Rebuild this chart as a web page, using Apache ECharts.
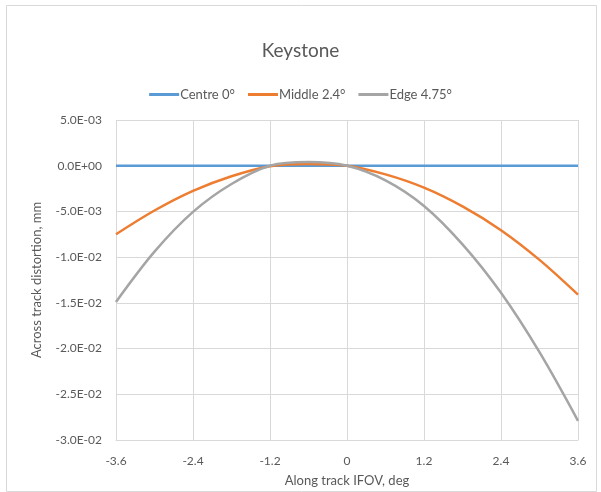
<!DOCTYPE html>
<html><head><meta charset="utf-8">
<script src="https://cdn.jsdelivr.net/npm/echarts@6/dist/echarts.min.js"></script>
<style>html,body{margin:0;padding:0;background:#fff}#c{width:601px;height:492px}</style>
</head><body><div id="c"></div>
<script>
const xValues = [-3.6, -3.0, -2.4, -1.8, -1.2, -0.6, 0, 0.6, 1.2, 1.8, 2.4, 3.0, 3.6];
const centre = [0, 0, 0, 0, 0, 0, 0, 0, 0, 0, 0, 0, 0];
const middle = [-7.5e-3, -4.9e-3, -2.75e-3, -1.15e-3, -0.05e-3, 0.2e-3, 0, -0.95e-3, -2.4e-3, -4.45e-3, -7.05e-3, -10.3e-3, -14.1e-3];
const edge = [-14.9e-3, -9.4e-3, -5.05e-3, -2.0e-3, 0.0, 0.4e-3, 0, -1.6e-3, -4.4e-3, -8.6e-3, -13.9e-3, -20.4e-3, -27.9e-3];
const seriesNames = ['Centre 0°', 'Middle 2.4°', 'Edge 4.75°'];
const xTicks = ['-3.6', '-2.4', '-1.2', '0', '1.2', '2.4', '3.6'];

function sci(v) {
  if (Math.abs(v) < 1e-12) return '0.0E+00';
  let e = Math.floor(Math.log10(Math.abs(v)));
  let m = v / Math.pow(10, e);
  m = Math.round(m * 10) / 10;
  if (Math.abs(m) >= 10) { m = m / 10; e += 1; }
  const es = (e < 0 ? '-' : '+') + String(Math.abs(e)).padStart(2, '0');
  return m.toFixed(1) + 'E' + es;
}
const pair = arr => xValues.map((x, i) => [x, arr[i]]);
const font = 'Lato';
const txt = '#595959';
const chart = echarts.init(document.getElementById('c'), null, {renderer: 'canvas'});
chart.setOption({
  animation: false,
  textStyle: {fontFamily: font},
  graphic: [{type: 'rect', shape: {x: 6.5, y: 5.5, width: 590, height: 486}, style: {fill: 'none', stroke: '#d9d9d9', lineWidth: 1}, silent: true}],
  title: {text: 'Keystone', left: 'center', top: 36, textStyle: {fontFamily: font, fontSize: 19, fontWeight: 'normal', color: txt}},
  legend: {
    top: 83, left: 'center', itemWidth: 30, itemHeight: 3, itemGap: 13, icon: 'rect',
    textStyle: {fontFamily: font, fontSize: 13, color: txt, padding: [0, 0, 0, -4]},
    data: seriesNames
  },
  grid: {left: 116, right: 23, top: 120, bottom: 52, containLabel: false},
  xAxis: {
    type: 'value', min: -3.6, max: 3.6, interval: 1.2,
    name: 'Along track IFOV, deg', nameLocation: 'middle', nameGap: 34,
    nameTextStyle: {fontFamily: font, fontSize: 13, color: txt},
    axisLine: {show: true, onZero: false, lineStyle: {color: '#d9d9d9', width: 1}},
    axisTick: {show: false},
    axisLabel: {fontFamily: font, fontSize: 12, color: txt, margin: 15, formatter: v => { const i = Math.round((v + 3.6) / 1.2); return xTicks[i] !== undefined ? xTicks[i] : String(v); }},
    splitLine: {show: true, lineStyle: {color: '#d9d9d9', width: 1}}
  },
  yAxis: {
    type: 'value', min: -0.03, max: 0.005, interval: 0.005,
    name: 'Across track distortion, mm', nameLocation: 'middle', nameGap: 73, nameRotate: 90,
    nameTextStyle: {fontFamily: font, fontSize: 13, color: txt},
    axisLine: {show: false}, axisTick: {show: false},
    axisLabel: {fontFamily: font, fontSize: 12, color: txt, margin: 14, formatter: sci},
    splitLine: {show: true, lineStyle: {color: '#d9d9d9', width: 1}}
  },
  series: [
    {name: seriesNames[0], type: 'line', data: pair(centre), showSymbol: false, smooth: 0.33, lineStyle: {width: 2.5, color: '#5B9BD5'}, itemStyle: {color: '#5B9BD5'}},
    {name: seriesNames[1], type: 'line', data: pair(middle), showSymbol: false, smooth: 0.33, lineStyle: {width: 2.5, color: '#ED7D31'}, itemStyle: {color: '#ED7D31'}},
    {name: seriesNames[2], type: 'line', data: pair(edge), showSymbol: false, smooth: 0.33, lineStyle: {width: 2.5, color: '#A5A5A5'}, itemStyle: {color: '#A5A5A5'}}
  ]
});
</script></body></html>
